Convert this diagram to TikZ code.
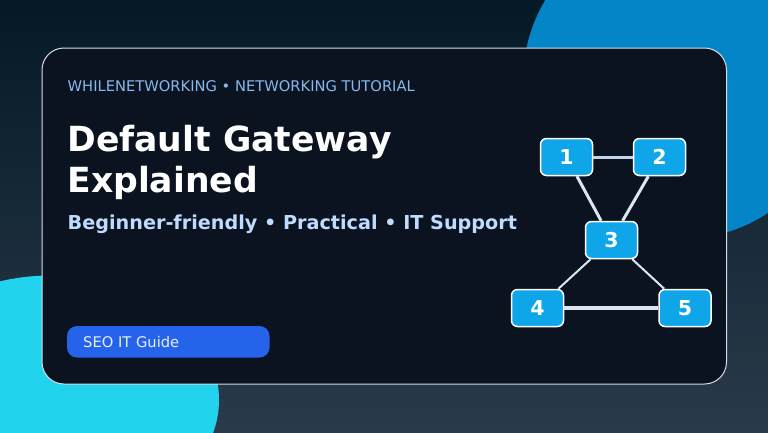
\documentclass[tikz,border=0pt]{standalone}
\usepackage{fontspec}
\setmainfont{DejaVu Sans}
\usetikzlibrary{shadings}

\definecolor{bgtop}{HTML}{041925}
\definecolor{bgbottom}{HTML}{2A3A4A}
\definecolor{blobblue}{HTML}{0485C8}
\definecolor{blobcyan}{HTML}{22D3EE}
\definecolor{cardfill}{HTML}{0B1320}
\definecolor{cardline}{HTML}{D5DEE8}
\definecolor{eyebrow}{HTML}{86B8EE}
\definecolor{subtext}{HTML}{BFDBFE}
\definecolor{pillfill}{HTML}{2563EB}
\definecolor{pilltext}{HTML}{E4EEFF}
\definecolor{boxfill}{HTML}{0EA5E9}
\definecolor{linkline}{HTML}{DBE6F5}
\definecolor{linkdim}{HTML}{C3D2E8}

\tikzset{
  netbox/.style={draw=white, fill=boxfill, line width=1.5pt, rounded corners=6pt,
    minimum width=52pt, minimum height=37pt, inner sep=0pt, text=white,
    font=\fontsize{20.5}{24}\selectfont\bfseries},
  link/.style={draw=linkline, line width=3pt},
  headtext/.style={anchor=base west, inner sep=0pt}
}

\begin{document}
\begin{tikzpicture}[x=1pt,y=-1pt]

	  \useasboundingbox (0,0) rectangle (768,432);
	  \clip (0,0) rectangle (768,432);

	  %----------------------------------------------------------------
	  \shade [top color=bgtop, bottom color=bgbottom] (0,0) rectangle (768,432);
	  \fill [blobblue] (681,81) circle (158pt);
	  \fill [blobcyan] (51,400) ellipse (168pt and 124.5pt);

	  %----------------------------------------------------------------
	  \draw [draw=cardline, fill=cardfill, line width=1pt, rounded corners=22pt] (42,48) rectangle (726.5,384);

	  \node [headtext, text=eyebrow, font=\fontsize{14.7}{17}\selectfont] (kicker) at (67.5,91) {WHILENETWORKING • NETWORKING TUTORIAL};
	  \node [headtext, text=white, font=\fontsize{34.6}{40}\selectfont\bfseries] (titleone) at (67.2,151) {Default Gateway};
	  \node [headtext, text=white, font=\fontsize{34.6}{40}\selectfont\bfseries] (titletwo) at (67.2,192) {Explained};
	  \node [headtext, text=subtext, font=\fontsize{19.2}{23}\selectfont\bfseries] (subtitle) at (67.5,229) {Beginner-friendly • Practical • IT Support};

	  \fill [pillfill, rounded corners=10pt] (67,326) rectangle (269.5,357.5);
	  \node [headtext, text=pilltext, font=\fontsize{14.7}{17}\selectfont] (pill) at (83,347) {SEO IT Guide};

	  %----------------------------------------------------------------
	  \node [netbox] (n1) at (566.5,157) {1};
	  \node [netbox] (n2) at (659.5,157) {2};
	  \node [netbox] (n3) at (611.5,240) {3};
	  \node [netbox] (n4) at (537.5,308) {4};
	  \node [netbox] (n5) at (685,308) {5};

	  \draw [link, draw=linkdim] (n1) -- (n2);
	  \draw [link] (n1) -- (n3);
	  \draw [link] (n2) -- (n3);
	  \draw [link, line width=2pt] (n3) -- (n4);
	  \draw [link, line width=2pt] (n3) -- (n5);
	  \draw [link, line width=4pt] (n4) -- (n5);

\end{tikzpicture}
\end{document}
